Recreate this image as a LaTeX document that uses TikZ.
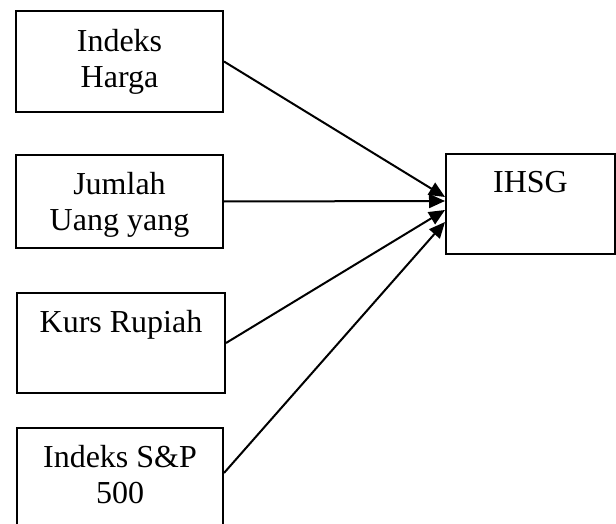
\documentclass[tikz,border=0pt]{standalone}
\usepackage{fontspec}
\setmainfont{Liberation Serif}
\usetikzlibrary{arrows.meta,calc}
\begin{document}
\begin{tikzpicture}[x=1pt,y=-1pt,
  box/.style={draw, line width=2pt, inner sep=0pt, anchor=north west},
  txt/.style={inner sep=0pt, anchor=base, align=center, font={\fontsize{32}{36}\selectfont}},
  arr/.style={line width=2pt, -{Triangle[length=16pt,width=14pt]}}
]
\useasboundingbox (0,0) rectangle (616,524);
\node[box, minimum width=207pt, minimum height=101pt] (b1) at (15,10) {};
\node[box, minimum width=207pt, minimum height=93pt] (b2) at (15,154) {};
\node[box, minimum width=208pt, minimum height=100pt] (b3) at (16,292) {};
\node[box, minimum width=206pt, minimum height=106pt] (b4) at (16,427) {};
\node[box, minimum width=169pt, minimum height=100pt] (ih) at (445,153) {};

\node[txt] (t1) at ($(b1.north)+(0,78)$) {Indeks\\Harga};
\node[txt] (t2) at ($(b2.north)+(0,76)$) {Jumlah\\Uang yang};
\node[txt] (t3) at ($(b3.north)+(0,40)$) {Kurs Rupiah};
\node[txt] (t4) at ($(b4.north)+(0,76)$) {Indeks S\&P\\500};
\node[txt] (t5) at ($(ih.north)+(0,40)$) {IHSG};

\coordinate (c1) at ($(ih.north west)+(0,44)$);
\coordinate (c2) at ($(ih.north west)+(0,48)$);
\coordinate (c3) at ($(ih.north west)+(0,57)$);
\coordinate (c4) at ($(ih.north west)+(0,69)$);
\coordinate (s4) at ($(b4.north east)+(0,46)$);

\draw[arr] (b1.east) -- (c1);
\draw[arr] (b2.east) -- (c2);
\draw[arr] (b3.east) -- (c3);
\draw[arr] (s4) -- (c4);
\end{tikzpicture}
\end{document}
